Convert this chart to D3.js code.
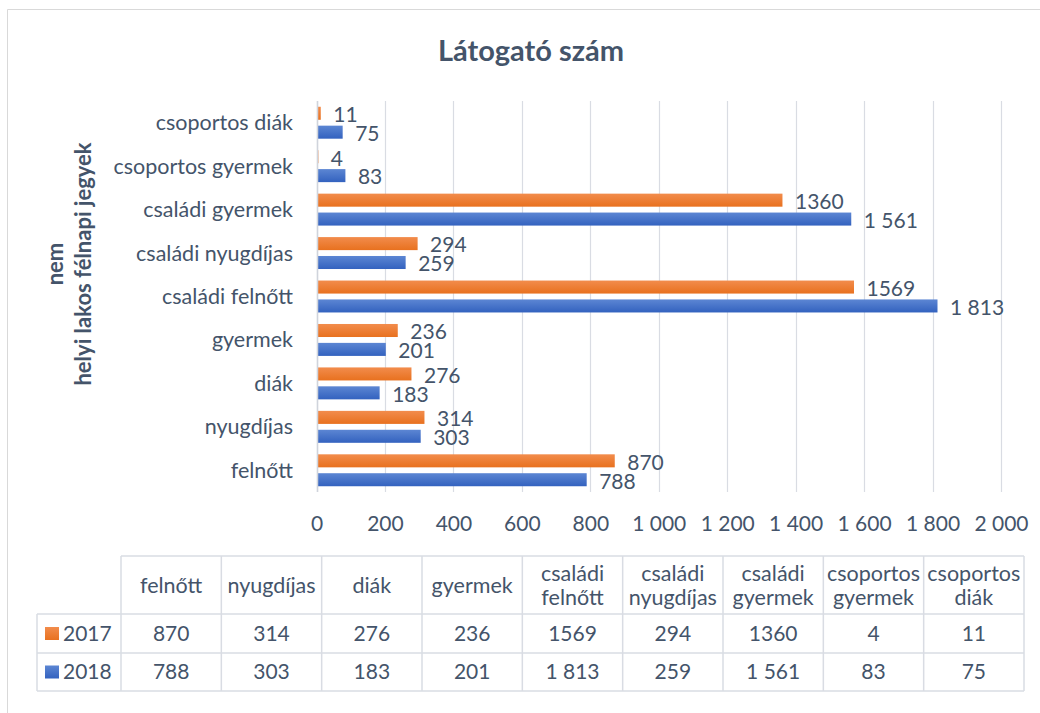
<!DOCTYPE html>
<html>
<head>
<meta charset="utf-8">
<script src="https://cdn.jsdelivr.net/npm/d3@7"></script>
<style>
  html, body { margin: 0; padding: 0; background: #fff; }
  svg { display: block; font-family: Lato, "Open Sans", sans-serif; }
</style>
</head>
<body>
<svg id="chart" width="1040" height="713"></svg>
<script>
// ---- data ----
const categories = ["felnőtt", "nyugdíjas", "diák", "gyermek", "családi felnőtt", "családi nyugdíjas", "családi gyermek", "csoportos gyermek", "csoportos diák"];
const tableHeaders = [["felnőtt"], ["nyugdíjas"], ["diák"], ["gyermek"], ["családi", "felnőtt"], ["családi", "nyugdíjas"], ["családi", "gyermek"], ["csoportos", "gyermek"], ["csoportos", "diák"]];
const values2017 = [870, 314, 276, 236, 1569, 294, 1360, 4, 11];
const values2018 = [788, 303, 183, 201, 1813, 259, 1561, 83, 75];
const seriesNames = ["2017", "2018"];
const xTicks = [0, 200, 400, 600, 800, 1000, 1200, 1400, 1600, 1800, 2000];
const title = "Látogató szám";
const axisTitle = ["nem", "helyi lakos félnapi jegyek"];

// ---- styling ----
const textColor = "#44546A";
const gridColor = "#D9DCE3";
const colors = { "2017": ["#F28C4C", "#E8711F"], "2018": ["#5C86D3", "#3362BF"] };
const fsText = 21.5, fsNum = 21;

const svg = d3.select("#chart");
const defs = svg.append("defs");
seriesNames.forEach(s => {
  const g = defs.append("linearGradient").attr("id", "grad" + s).attr("x1", 0).attr("y1", 0).attr("x2", 0).attr("y2", 1);
  g.append("stop").attr("offset", "0%").attr("stop-color", colors[s][0]);
  g.append("stop").attr("offset", "100%").attr("stop-color", colors[s][1]);
});

// chart border (left and top visible)
svg.append("path").attr("d", "M7.5,713 L7.5,9.5 L1040,9.5").attr("fill", "none").attr("stroke", "#D9D9D9").attr("stroke-width", 1);

// title
svg.append("text").attr("x", 531).attr("y", 61).attr("text-anchor", "middle")
  .attr("font-size", 29).attr("font-weight", "bold").attr("fill", textColor).text(title);

// scales
const x = d3.scaleLinear().domain([0, 2000]).range([316.5, 1001]);
const y = d3.scaleBand().domain(categories.slice().reverse()).range([101, 492]).padding(0);
const bw = y.bandwidth();
const barH = bw * 0.30, gap = bw * 0.135, padTop = (bw - 2 * barH - gap) / 2;

// gridlines
svg.append("g").selectAll("line").data(xTicks).join("line")
  .attr("x1", d => Math.round(x(d)) + 0.5).attr("x2", d => Math.round(x(d)) + 0.5)
  .attr("y1", 101).attr("y2", 492)
  .attr("stroke", gridColor).attr("stroke-width", 1.2);

// x axis labels
const xAxis = d3.axisBottom(x).tickValues(xTicks).tickSize(0).tickPadding(0)
  .tickFormat(d => d3.format(",")(d).replace(/,/g, " "));
const gx = svg.append("g").attr("transform", "translate(0,531)").call(xAxis);
gx.select(".domain").remove();
gx.selectAll("text").attr("font-size", fsNum).attr("fill", textColor).attr("font-family", "Lato, sans-serif").attr("dy", 0);

// y axis labels
const yAxis = d3.axisLeft(y).tickSize(0).tickPadding(0);
const gy = svg.append("g").attr("transform", "translate(293,0)").call(yAxis);
gy.select(".domain").remove();
gy.selectAll("text").attr("font-size", fsText).attr("fill", textColor).attr("font-family", "Lato, sans-serif").attr("dy", "0.35em");

// axis title
const at = svg.append("text").attr("transform", "translate(0,264) rotate(-90)")
  .attr("text-anchor", "middle").attr("font-size", 22).attr("font-weight", "bold").attr("fill", textColor);
at.append("tspan").attr("x", 0).attr("y", 63).text(axisTitle[0]);
at.append("tspan").attr("x", 0).attr("y", 91).text(axisTitle[1]);

// bars
const fmt2017 = d => String(d);
const fmt2018 = d => d3.format(",")(d).replace(/,/g, " ");
const series = [
  { name: "2017", values: values2017, off: padTop, fmt: fmt2017 },
  { name: "2018", values: values2018, off: padTop + barH + gap, fmt: fmt2018 }
];
series.forEach(s => {
  const g = svg.append("g");
  const data = categories.map((c, i) => ({ c, v: s.values[i] }));
  g.selectAll("rect").data(data).join("rect")
    .attr("x", x(0) + 0.5).attr("y", d => y(d.c) + s.off)
    .attr("width", d => Math.max(0.8, x(d.v) - x(0)))
    .attr("height", barH).attr("fill", `url(#grad${s.name})`);
  g.selectAll("text").data(data).join("text")
    .attr("x", d => x(d.v) + 13).attr("y", d => y(d.c) + s.off + barH / 2 + 1.5)
    .attr("dy", "0.35em").attr("font-size", fsNum).attr("fill", textColor)
    .text(d => s.fmt(d.v));
});

// axis line at 0
svg.append("line").attr("x1", Math.round(x(0)) + 0.5).attr("x2", Math.round(x(0)) + 0.5)
  .attr("y1", 101).attr("y2", 492).attr("stroke", "#D0D4DC").attr("stroke-width", 1.5);

// ---- data table ----
const tx = d3.scaleBand().domain(categories).range([121, 1024]);
const rows = [556, 614, 653, 691];
const legendLeft = 37;
const tb = svg.append("g").attr("stroke", gridColor).attr("stroke-width", 1.5);
tb.append("line").attr("x1", 121).attr("x2", 1024).attr("y1", rows[0]).attr("y2", rows[0]);
[1, 2, 3].forEach(i => tb.append("line").attr("x1", legendLeft).attr("x2", 1024).attr("y1", rows[i]).attr("y2", rows[i]));
tb.append("line").attr("x1", legendLeft).attr("x2", legendLeft).attr("y1", rows[1]).attr("y2", rows[3]);
categories.forEach(c => tb.append("line").attr("x1", tx(c)).attr("x2", tx(c)).attr("y1", rows[0]).attr("y2", rows[3]));
tb.append("line").attr("x1", 1024).attr("x2", 1024).attr("y1", rows[0]).attr("y2", rows[3]);

// header texts
const tt = svg.append("g").attr("fill", textColor).attr("font-size", fsText).attr("text-anchor", "middle");
categories.forEach((c, i) => {
  const lines = tableHeaders[i];
  const cx = tx(c) + tx.bandwidth() / 2;
  const cy = (rows[0] + rows[1]) / 2;
  lines.forEach((ln, j) => {
    tt.append("text").attr("x", cx).attr("y", cy + (j - (lines.length - 1) / 2) * 24).attr("dy", "0.35em").text(ln);
  });
});
// value rows
series.forEach((s, si) => {
  const cy = (rows[si + 1] + rows[si + 2]) / 2;
  categories.forEach((c, i) => {
    tt.append("text").attr("x", tx(c) + tx.bandwidth() / 2).attr("y", cy).attr("dy", "0.35em").attr("font-size", fsNum).text(s.fmt(s.values[i]));
  });
  svg.append("rect").attr("x", 45).attr("y", cy - 6.5).attr("width", 14).attr("height", 13).attr("fill", `url(#grad${s.name})`);
  svg.append("text").attr("x", 63).attr("y", cy).attr("dy", "0.35em").attr("font-size", fsNum).attr("fill", textColor).text(s.name);
});
</script>
</body>
</html>
